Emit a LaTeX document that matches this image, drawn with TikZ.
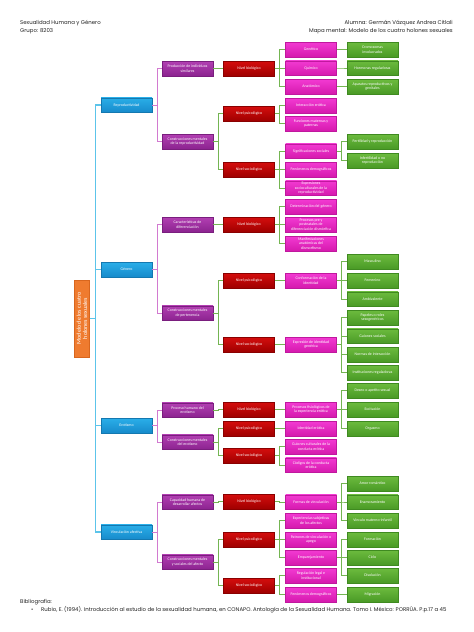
\documentclass[tikz,border=0pt]{standalone}
\usepackage{fontspec}
\setmainfont{Carlito}
\newfontfamily\headf{Poppins}
\definecolor{bT}{HTML}{2AAEE8}\definecolor{bB}{HTML}{178BCB}\definecolor{bD}{HTML}{1478B0}
\definecolor{pT}{HTML}{B23FB2}\definecolor{pB}{HTML}{8C2490}\definecolor{pD}{HTML}{7A1E7E}
\definecolor{rT}{HTML}{D40D0D}\definecolor{rB}{HTML}{A00000}\definecolor{rD}{HTML}{8A0000}
\definecolor{mT}{HTML}{F23AD2}\definecolor{mB}{HTML}{D51AAE}\definecolor{mD}{HTML}{C0189E}
\definecolor{gT}{HTML}{6CBB3E}\definecolor{gB}{HTML}{4A9A26}\definecolor{gD}{HTML}{3F8A20}
\definecolor{oF}{HTML}{EF7B2F}\definecolor{oD}{HTML}{D8661E}
\definecolor{cBlue}{HTML}{5CC4EA}\definecolor{cPurp}{HTML}{D27AD0}\definecolor{cGreen}{HTML}{74B552}
\definecolor{txt}{HTML}{222222}
\begin{document}
\begin{tikzpicture}[x=1pt,y=-1pt,
  bx/.style={minimum width=51pt,minimum height=14.5pt,inner sep=0.3pt,align=center,text=white,
    font=\fontsize{3.9}{4.5}\selectfont,line width=0.3pt},
  lblue/.style={bx,top color=bT,bottom color=bB,draw=bD},
  lpurp/.style={bx,top color=pT,bottom color=pB,draw=pD},
  lred/.style={bx,top color=rT,bottom color=rB,draw=rD},
  lmag/.style={bx,top color=mT,bottom color=mB,draw=mD},
  lgrn/.style={bx,top color=gT,bottom color=gB,draw=gD},
  rootbox/.style={rotate=90,minimum width=77pt,minimum height=15pt,inner sep=0.3pt,align=center,
    text=white,fill=oF,draw=oD,line width=0.3pt,font=\fontsize{6}{6.3}\selectfont},
  cb/.style={draw=cBlue,line width=1.1pt},
  cp/.style={draw=cPurp,line width=0.8pt},
  cg/.style={draw=cGreen,line width=0.6pt},
  hd/.style={font=\headf\fontsize{5.4}{6}\selectfont,text=txt,inner sep=0pt},
]
\useasboundingbox[fill=white] (0,0) rectangle (474,632);

% header
\node[hd,anchor=base west] (h1) at (20,24.5) {Sexualidad Humana y Género};
\node[hd,anchor=base west] (h2) at (20,32) {Grupo: 8203};
\node[hd,anchor=base east] (h3) at (453,24.5) {Alumna: Germán Vázquez Andrea Citlali};
\node[hd,anchor=base east] (h4) at (453,32) {Mapa mental: Modelo de los cuatro holones sexuales};

% root
\node[rootbox] (root) at (82,318.5) {Modelo de los cuatro\\holones sexuales};

% level 1
\node[lblue] (rep) at (126.5,105) {Reproductividad};
\node[lblue] (gen) at (126.5,269.5) {Género};
\node[lblue] (ero) at (126.5,425.5) {Erotismo};
\node[lblue] (vin) at (126.5,532) {Vinculación afectiva};

% level 2
\node[lpurp] (p1) at (187.5,68.5) {Producción de individuos\\similares};
\node[lpurp] (p2) at (187.5,141.5) {Construcciones mentales\\de la reproductividad};
\node[lpurp] (p3) at (187.5,224.5) {Características de\\diferenciación};
\node[lpurp] (p4) at (187.5,313) {Construcciones mentales\\de pertenencia};
\node[lpurp] (p5) at (187.5,410) {Proceso humano del\\erotismo};
\node[lpurp] (p6) at (187.5,442) {Construcciones mentales\\del erotismo};
\node[lpurp] (p7) at (187.5,502) {Capacidad humana de\\desarrollar afectos};
\node[lpurp] (p8) at (187.5,562) {Construcciones mentales\\y sociales del afecto};

% level 3
\node[lred] (r1) at (249,68.5) {Nivel biológico};
\node[lred] (r2) at (249,113.5) {Nivel psicológico};
\node[lred] (r3) at (249,169.5) {Nivel sociológico};
\node[lred] (r4) at (249,224.5) {Nivel biológico};
\node[lred] (r5) at (249,280.5) {Nivel psicológico};
\node[lred] (r6) at (249,344.5) {Nivel sociológico};
\node[lred] (r7) at (249,409.5) {Nivel biológico};
\node[lred] (r8) at (249,428.5) {Nivel psicológico};
\node[lred] (r9) at (249,455.5) {Nivel sociológico};
\node[lred] (r10) at (249,501.5) {Nivel biológico};
\node[lred] (r11) at (249,539.5) {Nivel psicológico};
\node[lred] (r12) at (249,585.5) {Nivel sociológico};

% level 4
\node[lmag] (m1) at (311,49.5) {Genético};
\node[lmag] (m2) at (311,68) {Químico};
\node[lmag] (m3) at (311,86.5) {Anatómico};
\node[lmag] (m4) at (311,105.5) {Interacción erótica};
\node[lmag] (m5) at (311,123.5) {Funciones maternas y\\paternas};
\node[lmag] (m6) at (311,151) {Significaciones sociales};
\node[lmag] (m7) at (311,169.5) {Fenómenos demográficos};
\node[lmag] (m8) at (311,188) {Expresiones\\socioculturales de la\\reproductividad};
\node[lmag] (m9) at (311,206.5) {Determinación del género};
\node[lmag] (m10) at (311,224.5) {Procesos pre y\\postnatales de\\diferenciación dismórfica};
\node[lmag] (m11) at (311,243.5) {Manifestaciones\\anatómicas del\\dismorfismo};
\node[lmag] (m12) at (311,280.5) {Conformación de la\\identidad};
\node[lmag] (m13) at (311,344.5) {Expresión de identidad\\genérica};
\node[lmag] (m14) at (311,409.5) {Procesos fisiológicos de\\la experiencia erótica};
\node[lmag] (m15) at (311,428.5) {Identidad erótica};
\node[lmag] (m16) at (311,446.5) {Guiones culturales de la\\conducta erótica};
\node[lmag] (m17) at (311,465) {Códigos de la conducta\\erótica};
\node[lmag] (m18) at (311,502) {Formas de vinculación};
\node[lmag] (m19) at (311,520.5) {Experiencias subjetivas\\de los afectos};
\node[lmag] (m20) at (311,539.5) {Patrones de vinculación o\\apego};
\node[lmag] (m21) at (311,557.5) {Emparejamiento};
\node[lmag] (m22) at (311,575.5) {Regulación legal e\\institucional};
\node[lmag] (m23) at (311,594.5) {Fenómenos demográficos};

% level 5
\node[lgrn] (g1) at (372.5,49.5) {Cromosomas\\involucrados};
\node[lgrn] (g2) at (372.5,68) {Hormonas reguladoras};
\node[lgrn] (g3) at (372.5,86.5) {Aparatos reproductivos y\\genitales};
\node[lgrn] (g4) at (372.5,141.5) {Fertilidad y reproducción};
\node[lgrn] (g5) at (372.5,160.5) {Infertilidad o no\\reproducción};
\node[lgrn] (g6) at (372.5,261.5) {Masculino};
\node[lgrn] (g7) at (372.5,280.5) {Femenino};
\node[lgrn] (g8) at (372.5,299) {Ambivalente};
\node[lgrn] (g9) at (372.5,317.5) {Papeles o roles\\sexogenéricos};
\node[lgrn] (g10) at (372.5,336) {Guiones sociales};
\node[lgrn] (g11) at (372.5,354.5) {Normas de interacción};
\node[lgrn] (g12) at (372.5,372.5) {Instituciones reguladoras};
\node[lgrn] (g13) at (372.5,390.5) {Deseo o apetito sexual};
\node[lgrn] (g14) at (372.5,409.5) {Excitación};
\node[lgrn] (g15) at (372.5,428.5) {Orgasmo};
\node[lgrn] (g16) at (372.5,483.5) {Amor romántico};
\node[lgrn] (g17) at (372.5,502) {Enamoramiento};
\node[lgrn] (g18) at (372.5,520.5) {Vínculo materno-infantil};
\node[lgrn] (g19) at (372.5,539.5) {Formación};
\node[lgrn] (g20) at (372.5,557.5) {Ciclo};
\node[lgrn] (g21) at (372.5,575.5) {Disolución};
\node[lgrn] (g22) at (372.5,594.5) {Migración};

% connectors
\foreach \b in {rep,gen,ero,vin}
  \draw[cb] (root.south) -- ++(5.5,0) |- (\b.west);
\foreach \a/\b in {rep/p1,rep/p2,gen/p3,gen/p4,ero/p5,ero/p6,vin/p7,vin/p8}
  \draw[cp] (\a.east) -- ++(5,0) |- (\b.west);
\foreach \a/\b in {p1/r1,p2/r2,p2/r3,p3/r4,p4/r5,p4/r6,p5/r7,p6/r8,p6/r9,p7/r10,p8/r11,p8/r12}
  \draw[cg] (\a.east) -- ++(5,0) |- (\b.west);
\foreach \a/\b in {r1/m1,r1/m2,r1/m3,r2/m4,r2/m5,r3/m6,r3/m7,r3/m8,r4/m9,r4/m10,r4/m11,
  r5/m12,r6/m13,r7/m14,r8/m15,r9/m16,r9/m17,r10/m18,r11/m19,r11/m20,r11/m21,r12/m22,r12/m23}
  \draw[cg] (\a.east) -- ++(5,0) |- (\b.west);
\foreach \a/\b in {m1/g1,m2/g2,m3/g3,m6/g4,m6/g5,m12/g6,m12/g7,m12/g8,m13/g9,m13/g10,m13/g11,m13/g12,
  m14/g13,m14/g14,m14/g15,m18/g16,m18/g17,m18/g18,m21/g19,m21/g20,m21/g21,m23/g22}
  \draw[cg] (\a.east) -- ++(5,0) |- (\b.west);

% bibliography
\node[hd,anchor=base west] (b1) at (20,603.5) {Bibliografía:};
\node[hd,anchor=base west] (b2) at (31,611) {•};
\node[hd,anchor=base west] (b3) at (41,611) {Rubio, E. (1994). Introducción al estudio de la sexualidad humana, en CONAPO. Antología de la Sexualidad Humana. Tomo I. México: PORRÚA. P.p.17 a 45};
\end{tikzpicture}
\end{document}
